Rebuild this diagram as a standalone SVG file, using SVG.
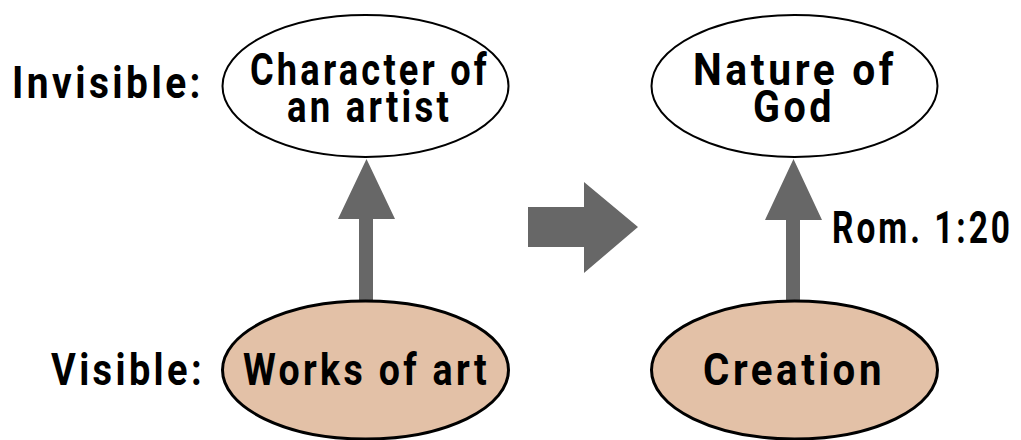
<svg xmlns="http://www.w3.org/2000/svg" width="1021" height="440" viewBox="0 0 1021 440">
<style>
.t{font-family:Roboto,"Liberation Sans",sans-serif;font-weight:bold;font-size:45px;fill:#000;letter-spacing:4px}
.inv{fill:#fff;stroke:#000;stroke-width:2}
.vis{fill:#e3c1a7;stroke:#000;stroke-width:3}
.arr{fill:#676767}
</style>
<rect width="1021" height="440" fill="#fff"/>
<g id="label-invisible"><text class="t" x="12" y="98" textLength="192" lengthAdjust="spacingAndGlyphs">Invisible:</text></g>
<g id="label-visible"><text class="t" x="51" y="385" textLength="154" lengthAdjust="spacingAndGlyphs">Visible:</text></g>
<g id="connectors">
<path id="up-left" class="arr" d="M359,300 V219 H338 L366.5,159 L395,219 H373 V300 Z"/>
<path id="up-right" class="arr" d="M786,300 V220 H765 L793.5,159 L822,220 H800 V300 Z"/>
<path id="big-right" class="arr" d="M528,207 H584 V182 L638,227 L584,273 V247 H528 Z"/>
</g>
<g id="node-character">
<ellipse class="inv" cx="365.5" cy="86" rx="143" ry="71"/>
<text class="t" x="250" y="85" textLength="240" lengthAdjust="spacingAndGlyphs">Character of</text>
<text class="t" x="287" y="122" textLength="165" lengthAdjust="spacingAndGlyphs">an artist</text>
</g>
<g id="node-works">
<ellipse class="vis" cx="365.5" cy="370" rx="143" ry="69"/>
<text class="t" x="243" y="385" textLength="247" lengthAdjust="spacingAndGlyphs">Works of art</text>
</g>
<g id="node-nature">
<ellipse class="inv" cx="794.5" cy="86" rx="143" ry="71"/>
<text class="t" x="693" y="85" textLength="204" lengthAdjust="spacingAndGlyphs">Nature of</text>
<text class="t" x="753" y="122" textLength="82" lengthAdjust="spacingAndGlyphs">God</text>
</g>
<g id="node-creation">
<ellipse class="vis" cx="794.5" cy="370" rx="143" ry="69"/>
<text class="t" x="703" y="385" textLength="182" lengthAdjust="spacingAndGlyphs">Creation</text>
</g>
<g id="label-rom"><text class="t" x="832" y="243" font-size="36" letter-spacing="2" textLength="181" lengthAdjust="spacingAndGlyphs">Rom. 1:20</text></g>
</svg>
